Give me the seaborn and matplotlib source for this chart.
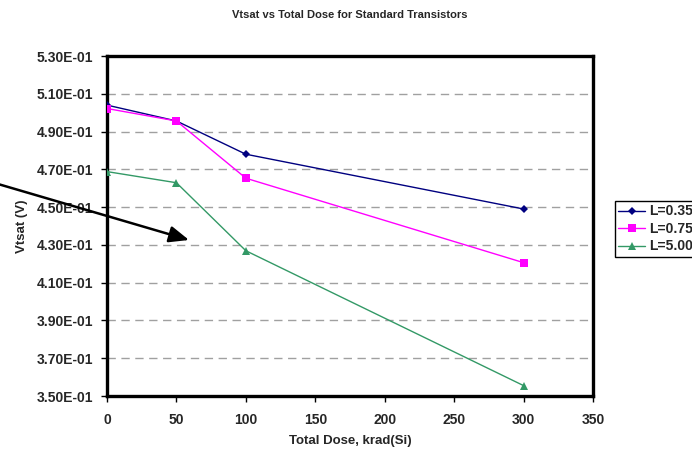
import matplotlib
matplotlib.use("Agg")
import matplotlib.pyplot as plt
import matplotlib.ticker as mticker
import seaborn as sns
import pandas as pd

dose = [0, 50, 100, 300]
l035 = [0.5040, 0.4956, 0.4780, 0.4490]
l075 = [0.5022, 0.4956, 0.4653, 0.4206]
l500 = [0.4688, 0.4629, 0.4269, 0.3555]
labels = ["L=0.35", "L=0.75", "L=5.00"]
yticks = [0.35, 0.37, 0.39, 0.41, 0.43, 0.45, 0.47, 0.49, 0.51, 0.53]
xticks = [0, 50, 100, 150, 200, 250, 300, 350]

rows = []
for lab, vals in zip(labels, [l035, l075, l500]):
    for d, v in zip(dose, vals):
        rows.append({"dose": d, "vt": v, "L": lab})
df = pd.DataFrame(rows)

sns.set_style("white")
plt.rcParams["font.family"] = ["Liberation Sans", "DejaVu Sans"]
plt.rcParams["font.weight"] = "bold"

fig = plt.figure(figsize=(6.92, 4.5), dpi=100)
ax = fig.add_axes([107/692, 54/450, (593-107)/692, (396-56)/450])

palette = {"L=0.35": "#000080", "L=0.75": "#FF00FF", "L=5.00": "#339966"}
markers = {"L=0.35": "D", "L=0.75": "s", "L=5.00": "^"}
sizes_m = {"L=0.35": 4, "L=0.75": 5.5, "L=5.00": 5.5}
for lab in labels:
    sub = df[df["L"] == lab]
    sns.lineplot(data=sub, x="dose", y="vt", ax=ax, color=palette[lab],
                 marker=markers[lab], markersize=sizes_m[lab], linewidth=1,
                 markeredgewidth=0, label=lab, zorder=3)

ax.set_xlim(0, 350)
ax.set_ylim(0.35, 0.53)
ax.xaxis.set_major_locator(mticker.FixedLocator(xticks))
ax.yaxis.set_major_locator(mticker.FixedLocator(yticks))
ax.yaxis.set_major_formatter(mticker.FormatStrFormatter("%.2E"))
ax.grid(axis="y", color="#a0a0a0", linestyle=(0, (6, 4)), linewidth=1)
ax.grid(axis="x", visible=False)
for s in ax.spines.values():
    s.set_color("black")
    s.set_linewidth(2.4)
    s.set_visible(True)
ax.tick_params(axis="both", which="major", direction="out", length=4, width=1,
               color="black", labelsize=10, left=True, bottom=True)
ax.tick_params(axis="y", pad=6)
ax.tick_params(axis="x", pad=8)
for t in ax.get_xticklabels() + ax.get_yticklabels():
    t.set_fontweight("bold")

ax.set_xlabel("Total Dose, krad(Si)", fontsize=9.5, fontweight="bold", labelpad=6)
ax.set_ylabel("Vtsat (V)", fontsize=9.5, fontweight="bold", labelpad=6)
fig.text(350/692, 1 - 15/450, "Vtsat vs Total Dose for Standard Transistors",
         ha="center", va="center", fontsize=8, fontweight="bold")

leg = ax.legend(loc="upper left", bbox_to_anchor=(615/692, (450-201)/450),
                bbox_transform=fig.transFigure, borderaxespad=0, frameon=True,
                fancybox=False, edgecolor="black", framealpha=1,
                handlelength=1.9, handletextpad=0.3, borderpad=0.25,
                labelspacing=0.25, prop={"weight": "bold", "size": 10})
leg.get_frame().set_linewidth(1)

ax.annotate("", xy=(189, 450-240), xycoords="figure pixels",
            xytext=(-2, 450-184), textcoords="figure pixels",
            arrowprops=dict(arrowstyle="-|>,head_length=1.2,head_width=0.5",
                            color="black", lw=1.8, shrinkA=0, shrinkB=0),
            annotation_clip=False)

fig.savefig("out.png", dpi=100)
